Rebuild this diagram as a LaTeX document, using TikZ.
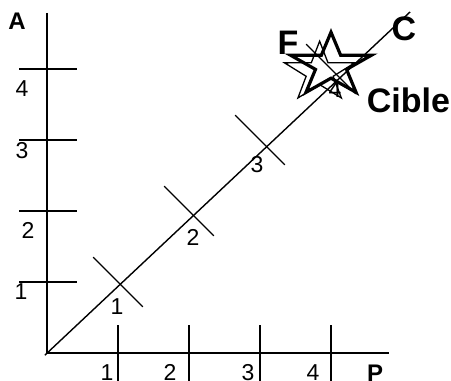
\documentclass[tikz,border=0pt]{standalone}
\usepackage{fontspec}
\setmainfont{Liberation Sans}
\usepackage{tikz}

\tikzset{
  num/.style={font=\fontsize{23}{23}\selectfont, inner sep=0pt},
  axlabel/.style={font=\fontsize{24}{24}\selectfont\bfseries, inner sep=0pt},
  biglabel/.style={font=\fontsize{34}{34}\selectfont\bfseries, inner sep=0pt},
}

\begin{document}
\begin{tikzpicture}[x=71pt, y=71pt, line width=1.4pt]
  \useasboundingbox (-0.662,-0.394) rectangle (5.690,4.972);
  % Axes
  \coordinate (O) at (0,0);
  \coordinate (Atop) at (0,4.79);
  \coordinate (Pend) at (4.82,0);
  \draw (Atop) -- (O) -- (Pend);
  \foreach \k in {1,...,4} \draw (-0.39,\k) -- (0.42,\k);
  \foreach \k in {1,...,4} \draw (\k,0.39) -- (\k,-0.394);
  \node[axlabel] (A) at (-0.423,4.669) {A};
  \node[axlabel] (P) at (4.62,-0.28) {P};
  \node[num] (a1) at (-0.366,0.859) {1};
  \node[num] (a2) at (-0.268,1.732) {2};
  \node[num] (a3) at (-0.352,2.845) {3};
  \node[num] (a4) at (-0.352,3.718) {4};
  \node[num] (p1) at (0.845,-0.275) {1};
  \node[num] (p2) at (1.732,-0.275) {2};
  \node[num] (p3) at (2.831,-0.275) {3};
  \node[num] (p4) at (3.746,-0.275) {4};
  % Diagonal with its marks
  \coordinate (Cstart) at (-0.03,-0.03);
  \coordinate (Cend) at (5.113,4.803);
  \draw (Cstart) -- (Cend);
  \foreach \k in {1,...,4} \draw ({\k-0.35},{\k+0.35}) -- ({\k+0.35},{\k-0.35});
  \node[num] (c1) at (0.986,0.648) {1};
  \node[num] (c2) at (2.056,1.634) {2};
  \node[num] (c3) at (2.958,2.648) {3};
  \node[num] (c4) at (4.056,3.704) {4};
  % Stars
  \begin{scope}[shift={(3.84,3.95)}, yscale=0.85]
    \draw[line width=1.3pt] (90:0.52)
      \foreach \i [evaluate=\i as \r using {ifthenelse(mod(\i,2)==0,0.52,0.2)}] in {1,...,9} { -- ({90+36*\i}:\r) } -- cycle;
  \end{scope}
  \begin{scope}[shift={(4.0,4.05)}, yscale=0.78]
    \draw[line width=3.2pt] (90:0.6)
      \foreach \i [evaluate=\i as \r using {ifthenelse(mod(\i,2)==0,0.6,0.23)}] in {1,...,9} { -- ({90+36*\i}:\r) } -- cycle;
  \end{scope}
  \node[biglabel] (F) at (3.394,4.366) {F};
  \node[biglabel] (C) at (5.028,4.563) {C};
  \node[biglabel] (Cible) at (5.091,3.563) {Cible};
\end{tikzpicture}
\end{document}
